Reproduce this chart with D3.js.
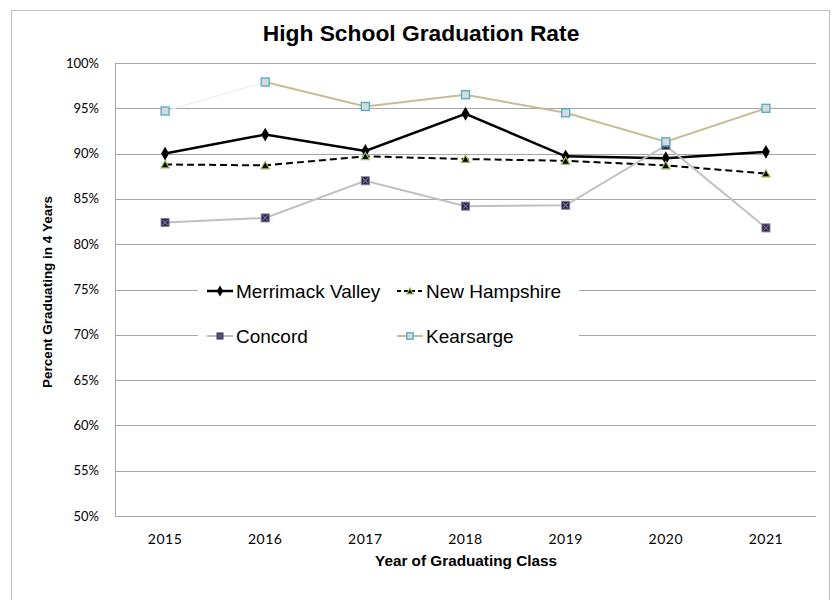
<!DOCTYPE html>
<html>
<head>
<meta charset="utf-8">
<script src="https://cdn.jsdelivr.net/npm/d3@7"></script>
<style>
  body { margin: 0; background: #fff; }
  svg { display: block; }
</style>
</head>
<body>
<div id="container"></div>
<script>
const years = ['2015', '2016', '2017', '2018', '2019', '2020', '2021'];
const merrimack = [90.0, 92.1, 90.3, 94.4, 89.7, 89.5, 90.2];
const newHampshire = [88.8, 88.7, 89.7, 89.4, 89.2, 88.7, 87.8];
const concord = [82.4, 82.9, 87.0, 84.2, 84.3, 90.9, 81.8];
const kearsarge = [94.7, 97.9, 95.2, 96.5, 94.5, 91.3, 95.0];
const yTicks = [50, 55, 60, 65, 70, 75, 80, 85, 90, 95, 100];

const width = 832, height = 600;
const plot = {left: 115, right: 816, top: 63, bottom: 516};

const svg = d3.select('#container').append('svg')
    .attr('width', width)
    .attr('height', height);

// outer chart border
svg.append('rect')
    .attr('x', 11.5).attr('y', 10.5)
    .attr('width', 818).attr('height', 600)
    .attr('fill', '#fff')
    .attr('stroke', '#bfbfbf');

const x = d3.scaleBand(years, [plot.left, plot.right]);
const y = d3.scaleLinear([50, 100], [plot.bottom, plot.top]);
const cx = d => x(d) + x.bandwidth() / 2;

// gridlines
svg.append('g')
    .selectAll('line')
    .data(yTicks)
    .join('line')
        .attr('x1', plot.left).attr('x2', plot.right)
        .attr('y1', d => Math.round(y(d)) + 0.5)
        .attr('y2', d => Math.round(y(d)) + 0.5)
        .attr('stroke', '#a6a6a6');

svg.append('line')
    .attr('x1', plot.left + 0.5).attr('x2', plot.left + 0.5)
    .attr('y1', plot.top).attr('y2', plot.bottom + 0.5)
    .attr('stroke', '#a6a6a6');

// y tick labels
svg.append('g')
    .selectAll('text')
    .data(yTicks)
    .join('text')
        .attr('x', 99)
        .attr('y', d => y(d) + 4.5)
        .attr('text-anchor', 'end')
        .attr('font-family', 'Lato, sans-serif')
        .attr('font-size', 13)
        .attr('fill', '#000')
        .text(d => d + '%');

// x tick labels
svg.append('g')
    .selectAll('text')
    .data(years)
    .join('text')
        .attr('x', d => cx(d))
        .attr('y', 544)
        .attr('text-anchor', 'middle')
        .attr('font-family', 'Lato, sans-serif')
        .attr('font-size', 14)
        .attr('letter-spacing', 0.5)
        .attr('fill', '#000')
        .text(d => d);

// titles
svg.append('text')
    .attr('x', 421).attr('y', 41)
    .attr('text-anchor', 'middle')
    .attr('font-family', 'Liberation Sans, Arial, sans-serif')
    .attr('font-weight', 'bold')
    .attr('font-size', 22.8)
    .text('High School Graduation Rate');

svg.append('text')
    .attr('x', 466).attr('y', 566)
    .attr('text-anchor', 'middle')
    .attr('font-family', 'Liberation Sans, Arial, sans-serif')
    .attr('font-weight', 'bold')
    .attr('font-size', 15.3)
    .text('Year of Graduating Class');

svg.append('text')
    .attr('transform', 'translate(52, 292) rotate(-90)')
    .attr('text-anchor', 'middle')
    .attr('font-family', 'Liberation Sans, Arial, sans-serif')
    .attr('font-weight', 'bold')
    .attr('font-size', 13.5)
    .text('Percent Graduating in 4 Years');

const series = [
    {name: 'Merrimack Valley', values: merrimack, color: '#000', width: 2.5, dash: null, marker: 'diamond'},
    {name: 'New Hampshire', values: newHampshire, color: '#000', width: 2, dash: '7,4', marker: 'triangle'},
    {name: 'Concord', values: concord, color: '#c0c0c0', width: 2, dash: null, marker: 'cross'},
    {name: 'Kearsarge', values: kearsarge, color: '#c4bd97', width: 2, dash: null, marker: 'square'}
];

function drawMarker(g, type, px, py, small) {
    const s = small ? 0.8 : 1;
    if (type == 'diamond') {
        g.append('path')
            .attr('d', d3.symbol(d3.symbolDiamond, 55 * s * s)())
            .attr('transform', `translate(${px},${py})`)
            .attr('fill', '#000');
    } else if (type == 'triangle') {
        g.append('path')
            .attr('d', d3.symbol(d3.symbolTriangle, 30 * s * s)())
            .attr('transform', `translate(${px},${py + 1})`)
            .attr('fill', '#000')
            .attr('stroke', '#9bbb59')
            .attr('stroke-width', 1.2);
    } else if (type == 'cross') {
        const h = 4 * s;
        g.append('rect')
            .attr('x', px - h).attr('y', py - h)
            .attr('width', 2 * h).attr('height', 2 * h)
            .attr('fill', '#2b2440')
            .attr('stroke', '#7f7f9f')
            .attr('stroke-width', 1);
        g.append('path')
            .attr('d', `M${px - h + 1.5},${py - h + 1.5}L${px + h - 1.5},${py + h - 1.5}M${px + h - 1.5},${py - h + 1.5}L${px - h + 1.5},${py + h - 1.5}`)
            .attr('stroke', '#8064a2')
            .attr('stroke-width', 1.2);
    } else {
        const h = 4 * s;
        g.append('rect')
            .attr('x', px - h).attr('y', py - h)
            .attr('width', 2 * h).attr('height', 2 * h)
            .attr('fill', '#d9d9d9')
            .attr('stroke', '#4bacc6')
            .attr('stroke-width', 1.3);
    }
}

const line = d3.line()
    .x((d, i) => cx(years[i]))
    .y(d => y(d));

series.forEach(s => {
    const g = svg.append('g');
    if (s.name == 'Kearsarge') {
        // first segment is drawn very faint in the original
        g.append('path')
            .attr('d', line(s.values.slice(0, 2)))
            .attr('fill', 'none')
            .attr('stroke', '#eeece1')
            .attr('stroke-width', 1.2);
        g.append('path')
            .attr('d', d3.line().x((d, i) => cx(years[i + 1])).y(d => y(d))(s.values.slice(1)))
            .attr('fill', 'none')
            .attr('stroke', s.color)
            .attr('stroke-width', s.width);
    } else {
        g.append('path')
            .attr('d', line(s.values))
            .attr('fill', 'none')
            .attr('stroke', s.color)
            .attr('stroke-width', s.width)
            .attr('stroke-dasharray', s.dash);
    }
    s.values.forEach((v, i) => drawMarker(g, s.marker, cx(years[i]), y(v), false));
});

// legend
const legend = svg.append('g');
legend.append('rect')
    .attr('x', 198).attr('y', 270)
    .attr('width', 381).attr('height', 86)
    .attr('fill', '#fff');

const legendPos = [[207, 291], [397, 291], [207, 336], [397, 336]];
series.forEach((s, i) => {
    const [lx, ly] = legendPos[i];
    const g = legend.append('g');
    g.append('line')
        .attr('x1', lx).attr('x2', lx + 26)
        .attr('y1', ly).attr('y2', ly)
        .attr('stroke', s.color)
        .attr('stroke-width', s.width)
        .attr('stroke-dasharray', s.dash ? '4,3' : null);
    drawMarker(g, s.marker, lx + 13, ly, true);
    g.append('text')
        .attr('x', lx + 29).attr('y', ly + 7)
        .attr('font-family', 'Liberation Sans, Arial, sans-serif')
        .attr('font-size', 19)
        .attr('fill', '#000')
        .text(s.name);
});
</script>
</body>
</html>
